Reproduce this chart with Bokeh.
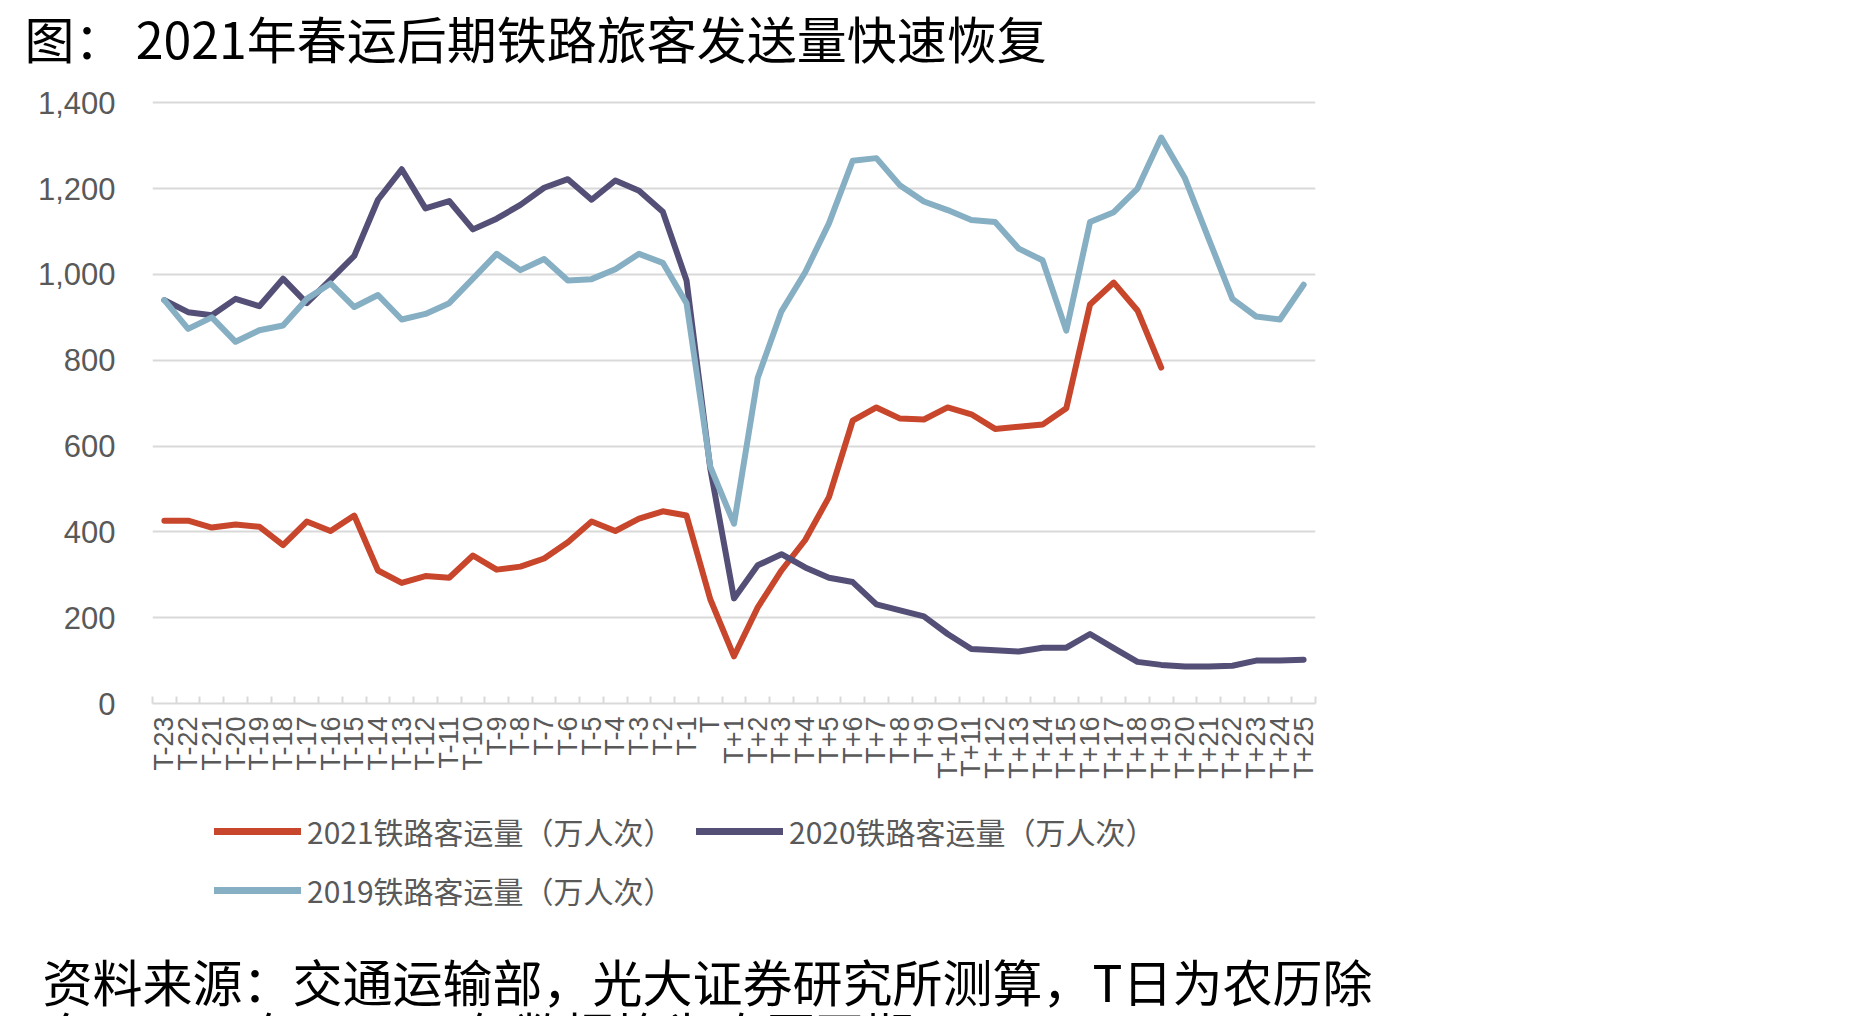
import math
from bokeh.plotting import figure
from bokeh.layouts import column
from bokeh.models import (Range1d, FixedTicker, NumeralTickFormatter, Legend, LegendItem, Label)
from bokeh.embed import file_html
from bokeh.resources import INLINE

categories = ["T-23", "T-22", "T-21", "T-20", "T-19", "T-18", "T-17", "T-16", "T-15", "T-14",
              "T-13", "T-12", "T-11", "T-10", "T-9", "T-8", "T-7", "T-6", "T-5", "T-4",
              "T-3", "T-2", "T-1", "T", "T+1", "T+2", "T+3", "T+4", "T+5", "T+6",
              "T+7", "T+8", "T+9", "T+10", "T+11", "T+12", "T+13", "T+14", "T+15", "T+16",
              "T+17", "T+18", "T+19", "T+20", "T+21", "T+22", "T+23", "T+24", "T+25"]

y2021 = [426, 426, 410, 417, 412, 369, 424, 402, 438, 310, 281, 297, 293, 345, 312, 319, 338, 376,
         424, 402, 431, 448, 438, 243, 110, 224, 310, 381, 481, 659, 690, 664, 662, 690, 674, 640,
         645, 650, 688, 930, 981, 916, 783]
y2020 = [940, 912, 905, 943, 926, 990, 933, 988, 1043, 1174, 1245, 1154, 1171, 1105, 1130, 1162,
         1202, 1222, 1174, 1219, 1195, 1146, 986, 548, 245, 322, 348, 317, 293, 283, 231, 217, 203,
         162, 127, 124, 121, 130, 130, 162, 129, 97, 90, 86, 86, 88, 100, 100, 102]
y2019 = [940, 873, 900, 843, 870, 881, 943, 979, 924, 952, 895, 908, 933, 990, 1048, 1010, 1036,
         986, 989, 1012, 1048, 1027, 933, 552, 419, 759, 914, 1005, 1119, 1265, 1271, 1207, 1170,
         1150, 1127, 1122, 1060, 1033, 869, 1122, 1145, 1200, 1319, 1224, 1083, 943, 902, 895, 976]

series = [y2021, y2020, y2019]
series_names = ["2021铁路客运量（万人次）", "2020铁路客运量（万人次）", "2019铁路客运量（万人次）"]
y_ticks = [0, 200, 400, 600, 800, 1000, 1200, 1400]

title_text = "图： 2021年春运后期铁路旅客发送量快速恢复"
footer_lines = ["资料来源：交通运输部，光大证券研究所测算，T日为农历除",
                "夕，2020年、2019年数据均为农历同期"]

W = 1864
H_TOP, H_MAIN, H_BOT = 78, 722, 216
FL, FR = 152, 1315
FT, FB = 20, 625          # frame top / bottom inside the main figure

colors = ["#C8462B", "#544F76", "#86AFC3"]
LW = 6


def text_fig(h):
    f = figure(width=W, height=h, output_backend="svg", toolbar_location=None,
               x_range=Range1d(0, W), y_range=Range1d(0, h),
               x_axis_location=None, y_axis_location=None,
               min_border=0, min_border_left=0, min_border_right=0,
               min_border_top=0, min_border_bottom=0)
    f.frame_align = False
    f.outline_line_color = None
    f.xgrid.visible = False
    f.ygrid.visible = False
    f.background_fill_color = "white"
    f.border_fill_color = "white"
    return f


# ---- title ----
pt = text_fig(H_TOP)
pt.add_layout(Label(x=24, y=H_TOP, x_units="screen", y_units="screen", text=title_text,
                    text_font="Noto Sans CJK SC", text_font_size="50px", text_color="black",
                    text_baseline="top", text_align="left"))

# ---- main chart ----
p = figure(width=W, height=H_MAIN, output_backend="svg", toolbar_location=None,
           x_range=Range1d(-0.5, len(categories) - 0.5), y_range=Range1d(0, 1410),
           min_border_left=FL, min_border_right=W - FR, min_border_top=FT,
           min_border_bottom=H_MAIN - FB)
p.frame_align = False
p.outline_line_color = None
p.background_fill_color = "white"
p.border_fill_color = "white"

xs = list(range(len(categories)))
for ys, c in zip(series, colors):
    p.line(xs[:len(ys)], ys, line_width=LW, color=c, line_cap="round", line_join="round")

xa = p.xaxis[0]
xa.ticker = FixedTicker(ticks=xs, minor_ticks=[i - 0.5 for i in range(len(categories) + 1)])
xa.major_label_overrides = {i: c for i, c in enumerate(categories)}
xa.major_label_orientation = math.pi / 2
xa.major_tick_in = 0
xa.major_tick_out = 0
xa.minor_tick_in = 7
xa.minor_tick_out = 0
xa.minor_tick_line_color = "#D9D9D9"
xa.minor_tick_line_width = 2
xa.axis_line_color = "#D9D9D9"
xa.axis_line_width = 2
xa.major_label_text_font = "Liberation Sans"
xa.major_label_text_font_size = "27px"
xa.major_label_text_color = "#595959"
xa.major_label_standoff = 13

ya = p.yaxis[0]
ya.ticker = FixedTicker(ticks=y_ticks)
ya.formatter = NumeralTickFormatter(format="0,0")
ya.axis_line_color = None
ya.major_tick_line_color = None
ya.minor_tick_line_color = None
ya.major_label_text_font = "Liberation Sans"
ya.major_label_text_font_size = "31px"
ya.major_label_text_color = "#595959"
ya.major_label_standoff = 31

p.xgrid.grid_line_color = None
p.ygrid.ticker = FixedTicker(ticks=y_ticks)
p.ygrid.grid_line_color = "#D9D9D9"
p.ygrid.grid_line_width = 2

# ---- legend + footer ----
pb = text_fig(H_BOT)
lr = []
for ys, c in zip(series, colors):
    r = pb.line(xs[:len(ys)], ys, line_width=7, color=c, line_cap="round")
    r.visible = False
    lr.append(r)
legend = Legend(items=[LegendItem(label=series_names[i], renderers=[lr[i]]) for i in range(3)],
                orientation="horizontal", ncols=2,
                location=(214, H_BOT - 112),
                glyph_width=87, glyph_height=40, label_height=40, label_width=374,
                label_standoff=6, spacing=15, padding=0, margin=0,
                border_line_color=None, background_fill_alpha=0,
                inactive_fill_alpha=0,
                label_text_font="Noto Sans CJK SC", label_text_font_size="30px",
                label_text_color="#595959")
pb.add_layout(legend, "center")
for i, line in enumerate(footer_lines):
    pb.add_layout(Label(x=42, y=H_BOT - 143 - 53 * i, x_units="screen", y_units="screen", text=line,
                        text_font="Noto Sans CJK SC", text_font_size="50px", text_color="black",
                        text_baseline="top", text_align="left"))

layout = column(pt, p, pb, spacing=0)
open("out.html", "w").write(file_html(layout, INLINE))
